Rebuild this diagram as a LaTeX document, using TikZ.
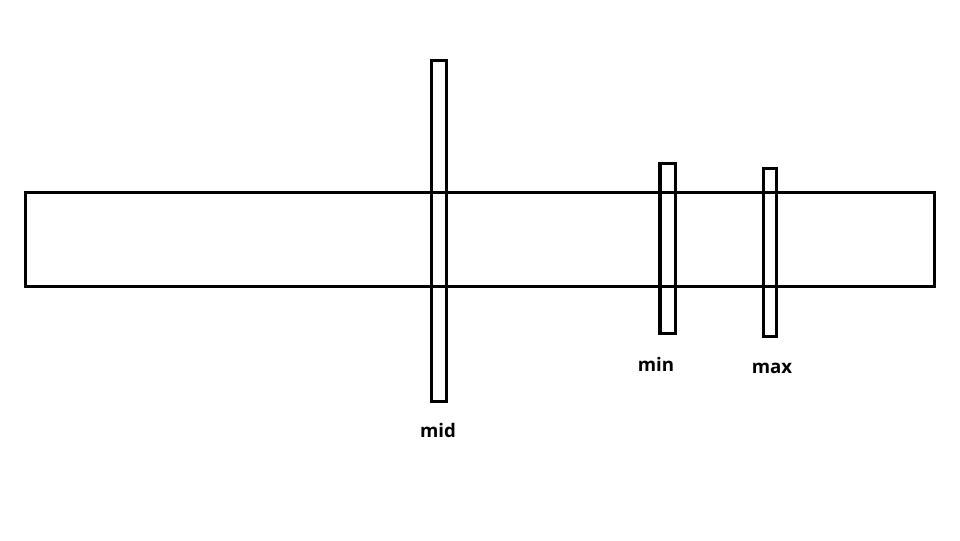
\documentclass[tikz,border=0pt]{standalone}
\usepackage{fontspec}
\setmainfont{Open Sans}
\begin{document}
\begin{tikzpicture}[x=0.75pt,y=-0.75pt,
  bar/.style={draw=black,line width=2.3pt},
  lbl/.style={font=\bfseries\fontsize{14}{16}\selectfont,inner sep=0pt}]
\useasboundingbox (0,0) rectangle (960,540);
\draw[bar] (25.5,192.5) rectangle (934.5,286.5);
\draw[bar] (431.5,60.5) rectangle (446.5,401.5);
\draw[bar] (660,163.5) rectangle (675.5,333.5);
\draw[bar] (763.5,168.5) rectangle (776.5,336.5);
\node[lbl] (mid) at (438,430) {mid};
\node[lbl] (min) at (656,364) {min};
\node[lbl] (max) at (772,368) {max};
\end{tikzpicture}
\end{document}
